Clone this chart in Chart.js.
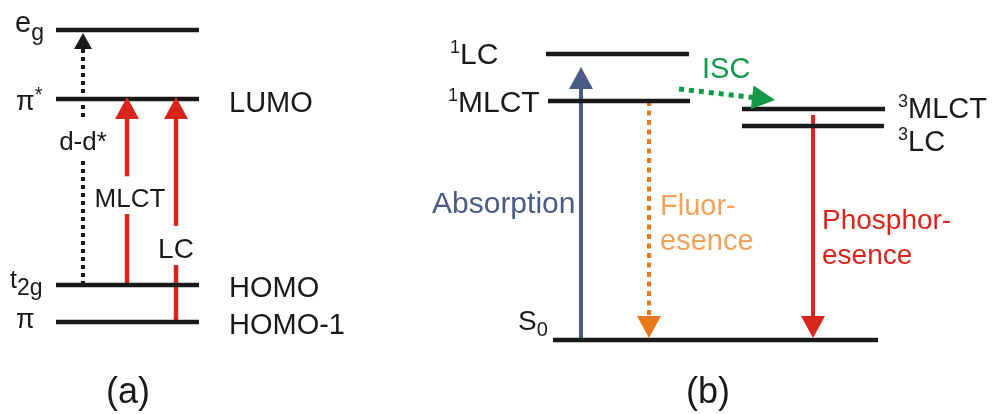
<!DOCTYPE html>
<html>
<head>
<meta charset="utf-8">
<script src="https://cdn.jsdelivr.net/npm/chart.js@4.4.0/dist/chart.umd.min.js"></script>
<style>
html,body{margin:0;padding:0;background:#fff;}
</style>
</head>
<body>
<canvas id="mycanvas" width="995" height="414"></canvas>
<script>
// energy levels (energy grows upward, x is the horizontal extent)
var levelNames  = ['eg', 'pi*', 't2g', 'pi', '1LC', '1MLCT', '3MLCT', '3LC', 'S0'];
var levelEnergy = [384, 315, 129, 92, 360, 313, 305, 288, 74];
var levelStart  = [56, 56, 56, 56, 546, 548, 742, 742, 553];
var levelEnd    = [199, 199, 199, 199, 689, 690, 885, 884, 878];

// transitions between levels
var transNames = ['d-d*', 'MLCT', 'LC', 'Absorption', 'Fluorescence', 'ISC', 'Phosphorescence'];
var transX0    = [83, 127, 176, 581, 649, 679, 813];
var transX1    = [83, 127, 176, 581, 649, 775, 813];
var transFrom  = [129, 129, 92, 74, 313, 325, 299];
var transTo    = [381, 317, 317, 347, 76, 314, 76];

// styles
var FONT = '"Liberation Sans", Arial, sans-serif';
var BLACK = '#1a1a1a';
var transColor = ['#1a1a1a', '#da251d', '#da251d', '#4a5b85', '#e8781a', '#129a4a', '#da251d'];
var transWidth = [4, 4.5, 4.5, 4, 4, 5, 4];
var transDash  = [[4, 4], [], [], [], [5, 4.5], [5, 5], []];
var headLen    = [16, 22, 22, 22, 22, 23, 22];
var headHalf   = [9, 12, 12, 12, 12, 12, 12];

// text labels: x, baseline (same units as the scales), parts [text, size, dy]
var labels = [
    {x: 15, y: 382, parts: [['e', 29, 0], ['g', 23, 8]]},
    {x: 16, y: 304, parts: [['\u03c0', 27, 0], ['*', 20, -9]]},
    {x: 10, y: 126, parts: [['t', 25, 0], ['2g', 23, 7]]},
    {x: 16, y: 86, parts: [['\u03c0', 27, 0]]},
    {x: 83, y: 264, align: 'center', bg: true, parts: [['d-d*', 26, 0]]},
    {x: 130, y: 207, align: 'center', bg: true, parts: [['MLCT', 26, 0]]},
    {x: 176, y: 156, align: 'center', bg: true, parts: [['LC', 28, 0]]},
    {x: 229, y: 302, parts: [['LUMO', 29, 0]]},
    {x: 229, y: 117, parts: [['HOMO', 29, 0]]},
    {x: 229, y: 80, parts: [['HOMO-1', 29, 0]]},
    {x: 128, y: 11, align: 'center', parts: [['(a)', 36, 0]]},
    {x: 450, y: 350, parts: [['1', 18, -11], ['LC', 30, 0]]},
    {x: 448, y: 302, parts: [['1', 18, -11], ['MLCT', 30, 0]]},
    {x: 702, y: 336, color: '#129a4a', parts: [['ISC', 29, 0]]},
    {x: 898, y: 296, parts: [['3', 18, -11], ['MLCT', 29, 0]]},
    {x: 898, y: 263, parts: [['3', 18, -11], ['LC', 29, 0]]},
    {x: 432, y: 201, color: '#4a5b85', parts: [['Absorption', 30, 0]]},
    {x: 660, y: 199, color: '#f2a25a', parts: [['Fluor-', 29, 0]]},
    {x: 660, y: 164, color: '#f2a25a', parts: [['esence', 29, 0]]},
    {x: 822, y: 185, color: '#da251d', parts: [['Phosphor-', 28, 0]]},
    {x: 822, y: 150, color: '#da251d', parts: [['esence', 28, 0]]},
    {x: 518, y: 84, parts: [['S', 28, 0], ['0', 20, 6]]},
    {x: 708, y: 11, align: 'center', parts: [['(b)', 36, 0]]}
];

var datasets = [];
for (var i in levelNames) {
    datasets.push({
        label: levelNames[i],
        data: [{x: levelStart[i], y: levelEnergy[i]}, {x: levelEnd[i], y: levelEnergy[i]}],
        borderColor: BLACK,
        borderWidth: 4.5,
        borderCapStyle: 'butt',
        showLine: true,
        pointRadius: 0
    });
}
var firstArrow = datasets.length;
for (var j in transNames) {
    datasets.push({
        label: transNames[j],
        data: [{x: transX0[j], y: transFrom[j]}, {x: transX1[j], y: transTo[j]}],
        borderColor: transColor[j],
        borderWidth: transWidth[j],
        borderDash: transDash[j],
        borderCapStyle: 'butt',
        showLine: true,
        pointRadius: 0
    });
}

function tipOf(chart, k) {
    var sx = chart.scales.x, sy = chart.scales.y;
    var x0 = sx.getPixelForValue(transX0[k]), y0 = sy.getPixelForValue(transFrom[k]);
    var x1 = sx.getPixelForValue(transX1[k]), y1 = sy.getPixelForValue(transTo[k]);
    var len = Math.sqrt((x1 - x0) * (x1 - x0) + (y1 - y0) * (y1 - y0));
    return {x: x1, y: y1, ux: (x1 - x0) / len, uy: (y1 - y0) / len};
}

var arrowPlugin = {
    id: 'arrows',
    beforeDatasetsDraw: function (chart) {
        // stop every shaft at the base of its head
        for (var k = 0; k < transNames.length; k++) {
            var meta = chart.getDatasetMeta(firstArrow + k);
            var t = tipOf(chart, k);
            var pt = meta.data[1];
            pt.x = t.x - t.ux * (headLen[k] - 1);
            pt.y = t.y - t.uy * (headLen[k] - 1);
            if (meta.dataset) meta.dataset._path = undefined;
        }
    },
    afterDatasetsDraw: function (chart) {
        var ctx = chart.ctx;
        for (var k = 0; k < transNames.length; k++) {
            var t = tipOf(chart, k);
            var bx = t.x - t.ux * headLen[k], by = t.y - t.uy * headLen[k];
            ctx.save();
            ctx.fillStyle = transColor[k];
            ctx.beginPath();
            ctx.moveTo(t.x, t.y);
            ctx.lineTo(bx - t.uy * headHalf[k], by + t.ux * headHalf[k]);
            ctx.lineTo(bx + t.uy * headHalf[k], by - t.ux * headHalf[k]);
            ctx.closePath();
            ctx.fill();
            ctx.restore();
        }
    }
};

var labelPlugin = {
    id: 'texts',
    afterDraw: function (chart) {
        var ctx = chart.ctx;
        var sx = chart.scales.x, sy = chart.scales.y;
        labels.forEach(function (lb) {
            var px = sx.getPixelForValue(lb.x), py = sy.getPixelForValue(lb.y);
            var w = 0, maxSize = 0;
            lb.parts.forEach(function (p) {
                ctx.font = p[1] + 'px ' + FONT;
                w += ctx.measureText(p[0]).width;
                maxSize = Math.max(maxSize, p[1]);
            });
            var x = px;
            if (lb.align === 'center') x = px - w / 2;
            if (lb.bg) {
                ctx.fillStyle = '#fff';
                ctx.fillRect(x - 2, py - maxSize * 0.72 - 12, w + 4, maxSize * 0.72 + 19);
            }
            ctx.fillStyle = lb.color || BLACK;
            ctx.textBaseline = 'alphabetic';
            ctx.textAlign = 'left';
            lb.parts.forEach(function (p) {
                ctx.font = p[1] + 'px ' + FONT;
                ctx.fillText(p[0], x, py + p[2]);
                x += ctx.measureText(p[0]).width;
            });
        });
    }
};

var ctx = document.getElementById('mycanvas');
var diagram = new Chart(ctx, {
    type: 'scatter',
    data: {datasets: datasets},
    options: {
        responsive: false,
        animation: false,
        events: [],
        layout: {padding: 0},
        plugins: {legend: {display: false}, tooltip: {enabled: false}},
        scales: {
            x: {type: 'linear', min: 0, max: 995, display: false},
            y: {type: 'linear', min: 0, max: 414, display: false}
        }
    },
    plugins: [arrowPlugin, labelPlugin]
});
</script>
</body>
</html>
